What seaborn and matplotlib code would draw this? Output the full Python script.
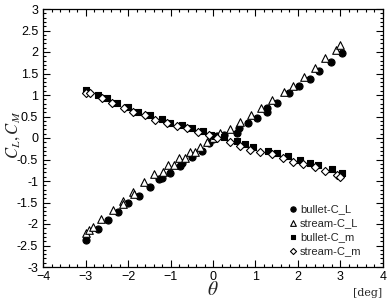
import numpy as np
import pandas as pd
import seaborn as sns
import matplotlib
import matplotlib.pyplot as plt
from matplotlib.ticker import MultipleLocator

matplotlib.use('Agg')

# bullet-C_L (filled circles)
theta_bullet_cl = [-3.0, -2.7, -2.48, -2.24, -1.99, -1.74, -1.48, -1.27, -1.19, -1.01,
                   -0.78, -0.74, -0.5, -0.25, -0.1, 0.0, 0.1, 0.25, 0.56, 0.6, 0.83,
                   1.03, 1.27, 1.28, 1.51, 1.79, 2.03, 2.28, 2.5, 2.77, 3.03]
cl_bullet = [-2.37, -2.11, -1.91, -1.72, -1.52, -1.34, -1.14, -0.96, -0.94, -0.81,
             -0.64, -0.59, -0.45, -0.3, -0.12, -0.02, 0.05, 0.08, 0.11, 0.23, 0.34,
             0.46, 0.61, 0.69, 0.81, 1.04, 1.22, 1.37, 1.56, 1.76, 1.97]

# stream-C_L (open triangles)
theta_stream_cl = [-3.0, -2.91, -2.83, -2.64, -2.36, -2.12, -2.12, -1.89, -1.85, -1.62,
                   -1.4, -1.17, -1.07, -0.93, -0.8, -0.67, -0.54, -0.42, -0.3, -0.15,
                   0.0, 0.16, 0.4, 0.64, 0.89, 1.13, 1.4, 1.68, 1.89, 2.15, 2.4,
                   2.64, 2.89, 3.0]
cl_stream = [-2.2, -2.14, -2.08, -1.89, -1.67, -1.46, -1.53, -1.25, -1.3, -1.02,
             -0.84, -0.79, -0.63, -0.63, -0.47, -0.47, -0.32, -0.32, -0.2, -0.1,
             0.0, 0.12, 0.22, 0.38, 0.53, 0.69, 0.88, 1.08, 1.21, 1.41, 1.62,
             1.85, 2.05, 2.16]

# bullet-C_m (filled squares)
theta_bullet_cm = [-2.99, -2.7, -2.5, -2.27, -1.99, -1.76, -1.48, -1.21, -1.01, -0.74,
                   -0.5, -0.23, -0.05, 0.05, 0.25, 0.56, 0.75, 0.95, 1.3, 1.51, 1.77,
                   2.05, 2.28, 2.48, 2.79, 3.03]
cm_bullet = [1.12, 1.0, 0.92, 0.82, 0.71, 0.61, 0.53, 0.44, 0.36, 0.3,
             0.24, 0.17, 0.08, 0.04, 0.02, -0.06, -0.14, -0.2, -0.3, -0.36, -0.41,
             -0.5, -0.57, -0.63, -0.73, -0.81]

# stream-C_m (open diamonds)
theta_stream_cm = [-2.99, -2.89, -2.62, -2.38, -2.1, -1.88, -1.6, -1.36, -1.09, -0.85,
                   -0.62, -0.35, -0.1, 0.1, 0.4, 0.64, 0.87, 1.1, 1.38, 1.65, 1.89,
                   2.12, 2.4, 2.64, 2.91, 2.99]
cm_stream = [1.05, 1.04, 0.92, 0.81, 0.69, 0.61, 0.53, 0.43, 0.34, 0.28,
             0.23, 0.15, 0.06, 0.0, -0.09, -0.19, -0.28, -0.33, -0.38, -0.47, -0.55,
             -0.6, -0.67, -0.76, -0.86, -0.9]

series = [
    ('bullet-C_L', theta_bullet_cl, cl_bullet, 'o', 'black', 26),
    ('stream-C_L', theta_stream_cl, cl_stream, '^', 'white', 30),
    ('bullet-C_m', theta_bullet_cm, cm_bullet, 's', 'black', 22),
    ('stream-C_m', theta_stream_cm, cm_stream, 'D', 'white', 17),
]

sns.set_style('ticks')
plt.rcParams['font.family'] = ['Liberation Sans', 'DejaVu Sans']
plt.rcParams['mathtext.fontset'] = 'stix'

fig = plt.figure(figsize=(3.88, 3.0), dpi=100)
ax = fig.add_axes([0.111, 0.11, 0.876, 0.86])

for name, xs, ys, mk, fc, size in series:
    df = pd.DataFrame({'theta': xs, 'value': ys})
    sns.scatterplot(data=df, x='theta', y='value', marker=mk, s=size,
                    facecolor=fc, edgecolor='black', linewidth=0.8,
                    label=name, ax=ax, zorder=3)

ax.set_xlim(-4, 4)
ax.set_ylim(-3, 3)
ax.xaxis.set_major_locator(MultipleLocator(1))
ax.xaxis.set_minor_locator(MultipleLocator(0.2))
ax.yaxis.set_minor_locator(MultipleLocator(0.1))
ax.set_yticks(np.arange(-3, 3.01, 0.5))
ax.set_yticklabels([f'{v:g}' for v in np.arange(-3, 3.01, 0.5)])
ax.tick_params(which='both', direction='in', top=True, right=True,
               labelsize=9, width=0.8, colors='black')
ax.tick_params(which='major', length=5)
ax.tick_params(axis='x', which='major', pad=3)
ax.tick_params(which='minor', length=2.5)
for sp in ax.spines.values():
    sp.set_linewidth(0.9)
    sp.set_color('black')

ax.set_xlabel('')
ax.set_ylabel('')
fig.text(0.033, 0.55, r'$C_L, C_M$', fontsize=12, rotation=90,
         ha='center', va='center')
fig.text(0.549, 0.002, r'$\theta$', fontsize=14, ha='center', va='bottom')
fig.text(0.985, 0.008, '[deg]', fontsize=8, ha='right', va='bottom',
         family='DejaVu Serif')

leg = ax.legend(loc='lower right', bbox_to_anchor=(0.97, 0.0), frameon=False,
                fontsize=8, handletextpad=0.0, borderaxespad=0.6,
                labelspacing=0.35, handlelength=1.2, markerscale=0.75)

fig.savefig('out.png', dpi=100)
plt.close(fig)
